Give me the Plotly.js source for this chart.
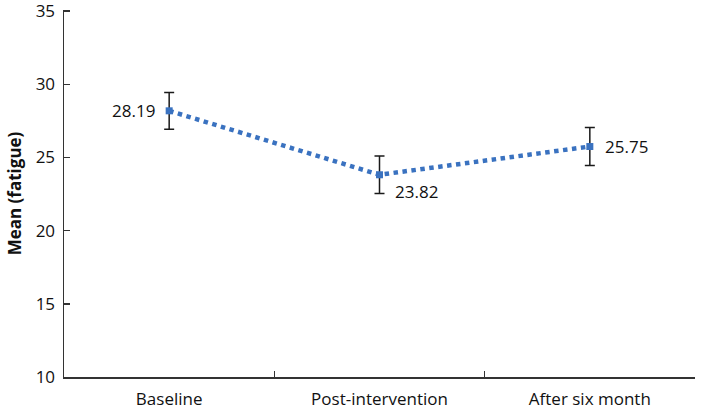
<!DOCTYPE html>
<html>
<head>
<meta charset="utf-8">
<script src="https://cdn.plot.ly/plotly-3.0.1.min.js"></script>
<style>html,body{margin:0;padding:0;background:#fff;}#chart{width:702px;height:411px;}</style>
</head>
<body>
<div id="chart"></div>
<script>
const categories = ["Baseline", "Post-intervention", "After six month"];
const meanValues = [28.19, 23.82, 25.75];
const errorValues = [1.26, 1.28, 1.30];
const valueLabels = ["28.19", "23.82", "25.75"];
const yTickValues = [10, 15, 20, 25, 30, 35];

const lineColor = "#3A72C0";
const fontFamily = "'Open Sans', 'Noto Sans', sans-serif";

const trace = {
  x: categories,
  y: meanValues,
  type: "scatter",
  mode: "lines+markers",
  line: {color: lineColor, width: 4.5, dash: "dot"},
  marker: {color: lineColor, size: 7, symbol: "square"},
  error_y: {type: "data", array: errorValues, visible: true, color: "#1a1a1a", thickness: 1.5, width: 5},
  hoverinfo: "none"
};

const labelShifts = [
  {xanchor: "right", xshift: -12, yshift: 0},
  {xanchor: "left", xshift: 13, yshift: -17},
  {xanchor: "left", xshift: 13, yshift: 0}
];

const annotations = categories.map((c, i) => ({
  x: c, y: meanValues[i], text: valueLabels[i], showarrow: false,
  xanchor: labelShifts[i].xanchor, yanchor: "middle",
  xshift: labelShifts[i].xshift, yshift: labelShifts[i].yshift,
  font: {family: fontFamily, size: 17, color: "#111"}
}));

const layout = {
  width: 702, height: 411,
  margin: {l: 64, r: 7, t: 10, b: 34},
  paper_bgcolor: "#fff", plot_bgcolor: "#fff",
  showlegend: false,
  font: {family: fontFamily, color: "#111"},
  xaxis: {
    type: "category", range: [-0.5, 2.5],
    showline: true, linecolor: "#333", linewidth: 1.5,
    ticks: "inside", ticklen: 6, tickcolor: "#333", tickwidth: 1.5,
    tickson: "boundaries", showgrid: false, zeroline: false,
    ticklabelstandoff: 6, ticklabeloverflow: "allow",
    tickfont: {family: fontFamily, size: 17, color: "#111"}
  },
  yaxis: {
    range: [10, 35.08], tickmode: "array", tickvals: yTickValues,
    showline: true, linecolor: "#333", linewidth: 1.5,
    ticks: "inside", ticklen: 6, tickcolor: "#333", tickwidth: 1.5,
    showgrid: false, zeroline: false,
    ticklabelstandoff: 4, ticklabeloverflow: "allow",
    tickfont: {family: fontFamily, size: 17, color: "#111"},
    title: {text: "<b>Mean (fatigue)</b>", font: {family: fontFamily, size: 17, color: "#111"}, standoff: 9}
  },
  annotations: annotations
};

Plotly.newPlot("chart", [trace], layout, {displayModeBar: false, staticPlot: true});
</script>
</body>
</html>
